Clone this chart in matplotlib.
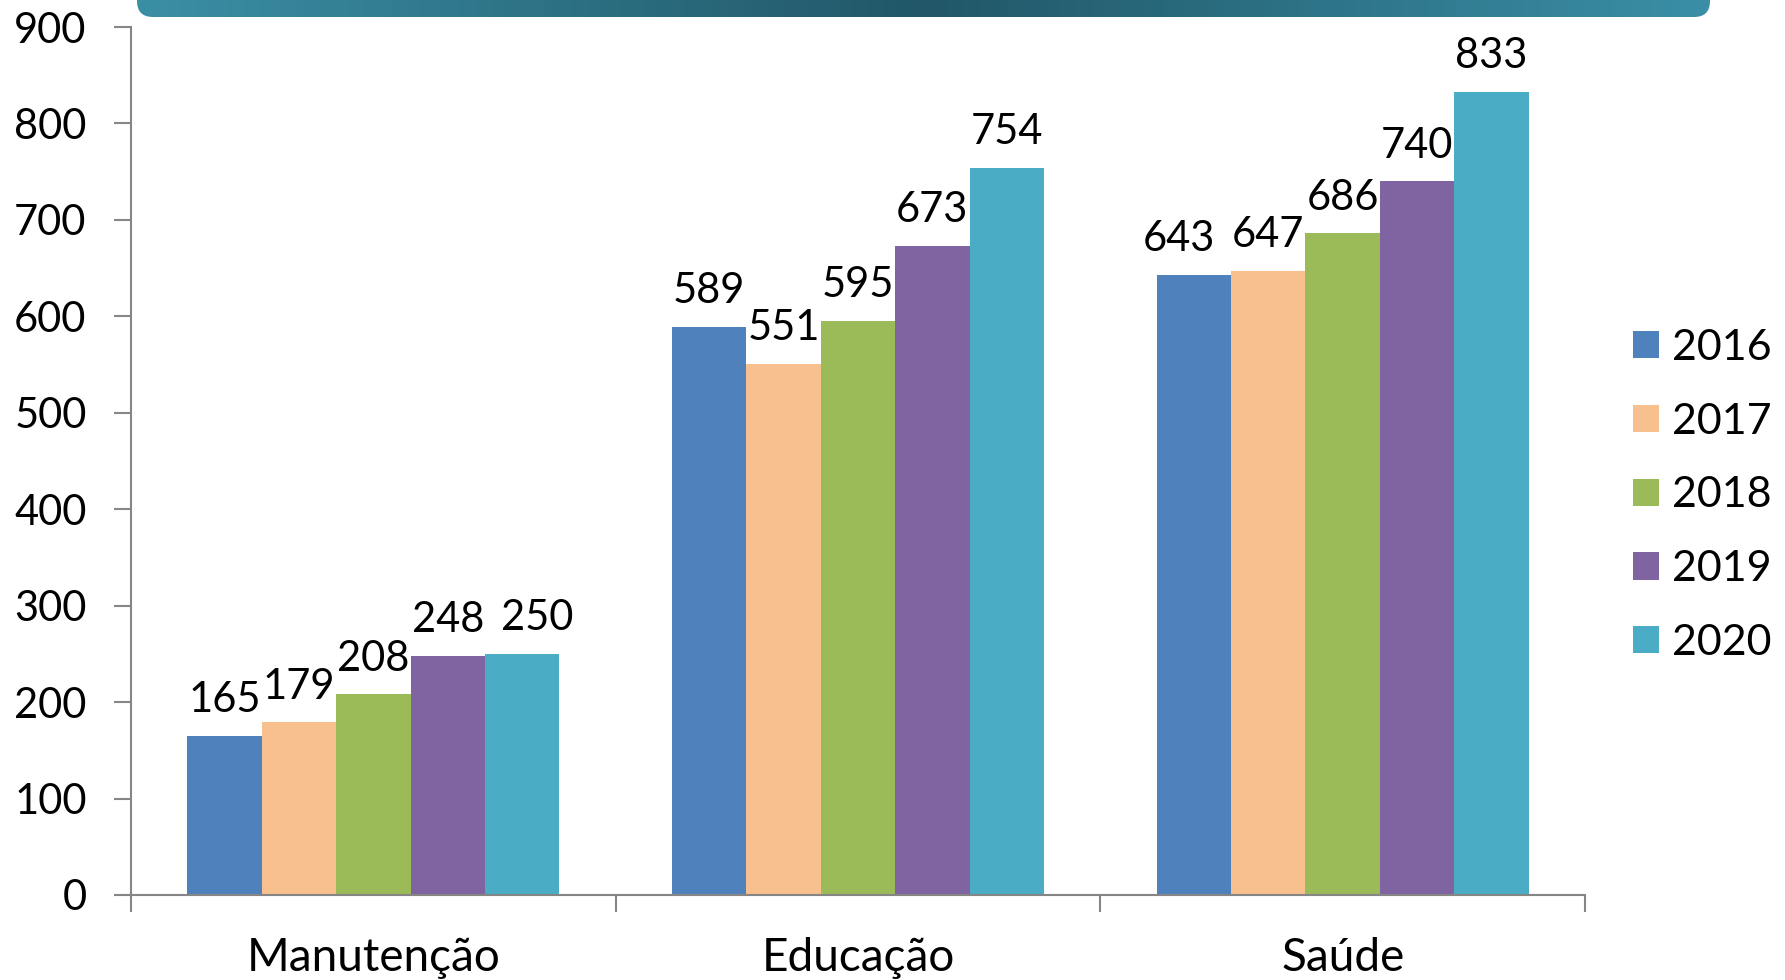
import numpy as np
import matplotlib.pyplot as plt
from matplotlib.patches import FancyBboxPatch

categories = ['Manutenção', 'Educação', 'Saúde']
years = ['2016', '2017', '2018', '2019', '2020']
values = {
    '2016': [165, 589, 643],
    '2017': [179, 551, 647],
    '2018': [208, 595, 686],
    '2019': [248, 673, 740],
    '2020': [250, 754, 833],
}
colors = ['#4F81BD', '#F9C08F', '#9BBB59', '#8064A2', '#4BACC6']

plt.rcParams['font.family'] = ['Lato', 'DejaVu Sans']
fs = 30

fig = plt.figure(figsize=(17.85, 9.8), dpi=100)
ax = fig.add_axes([131 / 1785, 1 - 895 / 980, (1585 - 131) / 1785, (895 - 27) / 980])

# a couple of labels are nudged sideways in the original to avoid collisions
nudge = {('2020', 0): 11, ('2016', 2): -11}

x = np.arange(len(categories))
bw = 0.1535
handles = []
for i, (yr, c) in enumerate(zip(years, colors)):
    pos = x + (i - 2) * bw
    b = ax.bar(pos, values[yr], width=bw, color=c, edgecolor='none', label=yr)
    handles.append(b)
    for j, (px, v) in enumerate(zip(pos, values[yr])):
        ax.annotate(str(v), (px, v), xytext=(nudge.get((yr, j), 0), 12),
                    textcoords='offset points', ha='center', va='bottom', fontsize=fs)

ax.set_xlim(-0.5, 2.5)
ax.set_ylim(0, 900)
ax.set_yticks(range(0, 901, 100))
ax.tick_params(axis='y', labelsize=fs, length=12, color='#868686', width=1.5, pad=20)
ax.set_xticks([-0.5, 0.5, 1.5, 2.5])
ax.set_xticklabels([])
ax.tick_params(axis='x', which='major', length=12, color='#868686', width=1.5)
ax.set_xticks(x, minor=True)
ax.set_xticklabels(categories, minor=True)
ax.tick_params(axis='x', which='minor', length=0, labelsize=33, pad=30)
for s in ['top', 'right']:
    ax.spines[s].set_visible(False)
for s in ['left', 'bottom']:
    ax.spines[s].set_color('#868686')
    ax.spines[s].set_linewidth(1.5)

fig.legend(handles=handles, labels=years, loc='upper left',
           bbox_to_anchor=(1633 / 1785, 1 - 329 / 980), frameon=False, borderpad=0,
           fontsize=31, handlelength=0.6, handleheight=0.6, handletextpad=0.3,
           labelspacing=0.83, borderaxespad=0)

# banner at top
bx0, bx1 = 137, 1710
bax = fig.add_axes([bx0 / 1785, 1 - 17 / 980, (bx1 - bx0) / 1785, 60 / 980])
bax.set_xlim(0, bx1 - bx0)
bax.set_ylim(0, 60)
bax.axis('off')
grad_pos = [0, 0.5, 1]
grad_cols = np.array([[0x3b, 0x8f, 0xa5], [0x21, 0x57, 0x68], [0x3a, 0x8f, 0xa6]]) / 255
t = np.linspace(0, 1, 400)
img = np.stack([np.interp(t, grad_pos, grad_cols[:, k]) for k in range(3)], axis=-1)[None, :, :]
im = bax.imshow(img, extent=[0, bx1 - bx0, 0, 60], aspect='auto')
clip = FancyBboxPatch((0, 0), bx1 - bx0, 80, boxstyle='round,pad=0,rounding_size=16',
                      transform=bax.transData, facecolor='none', edgecolor='none')
bax.add_patch(clip)
im.set_clip_path(clip)

fig.savefig('out.png', dpi=100)
